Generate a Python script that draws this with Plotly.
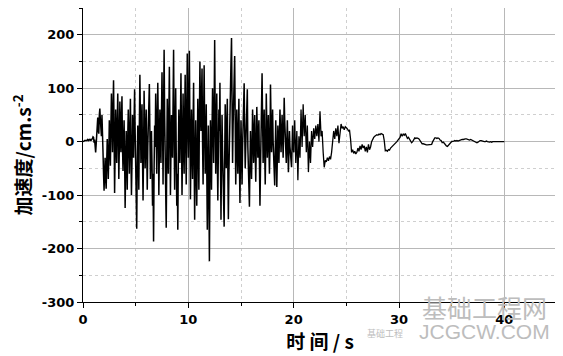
import plotly.graph_objects as go

# Strong-motion part: 0-20 s sampled every 0.05 s (cm/s^2)
strong_t0 = 0.0
strong_dt = 0.05
acc_strong = [
    0, 0, 1, 2, 2, 1, 1, 2, 3, 4, 2, 3, 4, 3, 5, 2, 3, 5, 6, 9,
    8, -2, 4, -8, -20, -5, 20, 35, 45, 20, 15, 50, 62, 40, 30, 10, 50, 25, -20, -60,
    -92, -60, -30, -70, -88, -40, 5, -30, -70, -20, 40, -10, -45, 30, 90, 40, -20, 60, 115, 20,
    -96, -20, 60, 10, -40, 30, 90, 20, -70, -10, 75, 30, -20, 40, 85, -10, -55, 0, 40, -30,
    -124, -50, 20, -30, -90, 10, 60, 0, -60, 20, 80, -20, -100, -40, 50, 10, -30, 40, 98, 20,
    -60, -100, -163, -40, 30, -20, -90, 30, 125, 50, -40, 20, 70, -30, -110, -20, 95, 30, -50, 10,
    60, -20, -90, -10, 40, 70, 108, 20, -70, -20, 20, -40, -120, -60, -187, -50, 30, -10, 90, 20,
    -60, 40, 110, 30, -100, -20, 60, 10, -40, 50, 130, 40, -80, 60, 172, 50, -20, -60, -161, -40,
    80, 10, -60, 50, 140, 30, -100, -20, 50, -10, -30, 70, 172, 20, -90, 20, 100, -20, -120, -60,
    -165, -30, 60, -10, -40, 40, 128, 10, -100, -20, 90, 10, -60, 40, 125, 0, -80, 50, 165, 40,
    -30, 80, 170, 20, -108, -10, 60, -20, -70, 30, 110, -30, -146, -40, 40, -50, -120, -20, 80, 10,
    -90, 40, 150, 60, 20, 80, 137, 0, -80, 40, 143, 30, -60, -10, 70, -50, -165, -60, 30, -90,
    -224, -60, 40, -20, -90, 20, 100, 40, -40, 60, 190, 50, -60, 20, 90, -30, -110, -20, 60, 20,
    110, -30, -146, -40, 50, -20, -80, -120, -159, -40, 70, 10, -50, 30, 80, -50, -145, -60, 20, 80,
    120, 150, 194, 60, -40, 30, 100, 130, 160, 40, -80, -20, 60, -10, -60, 20, 80, -40, -115, -30,
    40, -20, -80, -10, 60, 80, 109, 20, -50, -10, 30, 50, 98, -10, -60, -90, -122, -40, 20, -30,
    -70, -10, 60, 10, -40, 20, 50, -20, -75, -10, 65, 20, -30, 10, 40, -40, -120, -50, 20, 70,
    128, 40, -40, 10, 60, -20, -80, -10, 90, 30, -30, 10, 50, -10, -60, -10, 107, 40, -20, 20,
    60, 0, -50, -70, -82, -20, 40, -20, -85, -30, 30, 0, -40, 10, 60, 20, -20, 10, 50, 10,
    -30, 20, 82, 40, 10, -20, -40, 0, 40, -10, -57, -20, 20, -10, -30, -40, -48, -10, 30, 0,
    -20,
]

# Decaying part: 20-40 s sampled every 0.1 s (cm/s^2)
tail_t0 = 20.0
tail_dt = 0.1
acc_20_30 = [
    -20, 40, -40, 20, -72, 10, -30, 60, -10, 70,
    10, 50, -20, 30, -57, 0, -40, 20, -10, 25,
    5, 30, 10, 33, 0, 57, 10, 20, -20, -48,
    -35, -38, -30, -36, -28, -33, -20, -5, 20, 5,
    25, 10, 30, -3, 15, 33, 25, 28, 22, 28,
    26, 24, 20, 22, 5, -20, -15, -22, -18, -23,
    -20, -12, -18, -8, -15, -5, -12, -8, -18, -10,
    -20, -5, -15, -10, 0, 5, 8, 10, 11, 13,
    12, 14, 13, 15, 14, 13, 2, -17, -16, -18,
    -15, -16, -12, -10, -8, -6, -5, -2, 0, 3,
]
acc_30_40 = [
    5, 8, 15, 10, 14, 12, 15, 10, 6, 8,
    4, 2, -2, 0, 4, 7, 6, 7, 6, 5,
    2, -2, -4, -4, -5, -6, -6, -6, -6, -5,
    -6, -5, 0, 4, 7, 7, 6, 7, 6, 3,
    2, -2, -1, -3, -6, -8, -9, -6, -4, -2,
    0, 0, 1, 2, 1, 2, 1, 2, 3, 3,
    4, 4, 5, 5, 5, 4, 4, 3, 4, 3,
    2, 1, 0, -2, -2, -1, 1, 2, 2, 1,
    1, 0, 0, 1, 0, -1, -1, 0, -1, 0,
    0, 1, 0, 1, 1, 0, 1, 0, 1, 0,
    0,
]
acc_tail = acc_20_30 + acc_30_40

x_ticks = [0, 10, 20, 30, 40]
x_tick_labels = ["0", "10", "20", "30", "40"]
y_ticks = [-300, -200, -100, 0, 100, 200]
y_tick_labels = ["-300", "-200", "-100", "0", "100", "200"]

x_title = "时 间 / s"
y_title = "加速度/cm.s<sup>-2</sup>"

tick_font = dict(family="DejaVu Sans", size=13, color="black", weight="bold")
cjk_font = dict(family="Noto Sans CJK SC", size=19, color="black", weight="bold")

fig = go.Figure()
fig.add_trace(go.Scatter(
    x0=strong_t0, dx=strong_dt, y=acc_strong,
    mode="lines", line=dict(color="black", width=1.5),
    showlegend=False, hoverinfo="skip",
))
fig.add_trace(go.Scatter(
    x0=tail_t0, dx=tail_dt, y=acc_tail,
    mode="lines", line=dict(color="black", width=1.3),
    showlegend=False, hoverinfo="skip",
))

# the page body adds an 8 px offset, so the figure is sized to the visible window
fig.update_layout(
    width=555, height=348,
    margin=dict(l=75, r=6, t=0, b=54),
    paper_bgcolor="white", plot_bgcolor="white",
    xaxis=dict(
        range=[0, 45], tickvals=x_ticks, ticktext=x_tick_labels,
        automargin=False,
        showline=True, linecolor="black", linewidth=1, mirror=True,
        ticks="outside", ticklen=5, tickcolor="black",
        showgrid=True, gridcolor="#b8b8b8", gridwidth=1,
        zeroline=False, tickfont=tick_font,
        minor=dict(dtick=5, showgrid=True, gridcolor="#cfcfcf", griddash="dot",
                   ticks="outside", ticklen=3, tickcolor="black"),
        title=dict(text=x_title, font=cjk_font, standoff=3),
    ),
    yaxis=dict(
        range=[-300, 250], tickvals=y_ticks, ticktext=y_tick_labels,
        automargin=False,
        showline=True, linecolor="black", linewidth=1, mirror=True,
        ticks="outside", ticklen=5, tickcolor="black",
        showgrid=True, gridcolor="#b8b8b8", gridwidth=1,
        zeroline=False, tickfont=tick_font,
        minor=dict(dtick=50, showgrid=True, gridcolor="#cfcfcf", griddash="dot",
                   ticks="outside", ticklen=3, tickcolor="black"),
        title=dict(text=y_title, font=cjk_font, standoff=10),
    ),
)

# watermark
wm = "#bdbdbd"
fig.add_annotation(text="基础工程网", xref="paper", yref="paper",
                   x=(484 - 83) / 474, y=(302 - 307) / 294, showarrow=False,
                   xanchor="center", yanchor="middle",
                   font=dict(family="Noto Sans CJK SC", size=25, color=wm))
fig.add_annotation(text="JCGCW.COM", xref="paper", yref="paper",
                   x=(484 - 83) / 474, y=(302 - 332) / 294, showarrow=False,
                   xanchor="center", yanchor="middle",
                   font=dict(family="Liberation Sans, Arial", size=21, color=wm))
fig.add_annotation(text="基础工程", xref="paper", yref="paper",
                   x=(385 - 83) / 474, y=(302 - 333) / 294, showarrow=False,
                   xanchor="center", yanchor="middle",
                   font=dict(family="Noto Sans CJK SC", size=9, color=wm))

fig.write_html("out.html")
